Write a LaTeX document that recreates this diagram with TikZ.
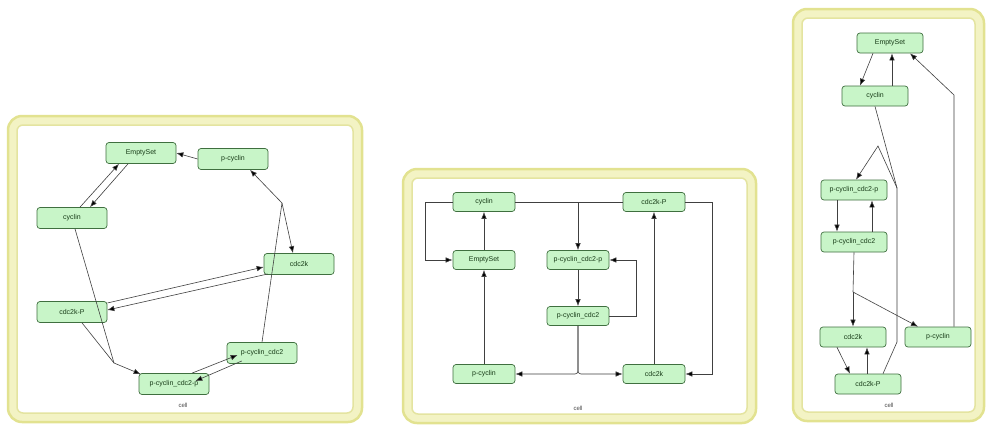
\documentclass[tikz,border=0pt]{standalone}
\usepackage{fontspec}
\setmainfont{Liberation Sans}
\usetikzlibrary{arrows.meta}
\definecolor{nodefill}{HTML}{C8F5C8}
\definecolor{nodeborder}{HTML}{3F6F3F}
\definecolor{nodetext}{HTML}{183C18}
\definecolor{bandout}{HTML}{E2E290}
\definecolor{bandfill}{HTML}{F3F3C4}
\definecolor{bandin}{HTML}{E4E4A0}
\definecolor{linecol}{HTML}{404040}
\tikzset{
  sp/.style={draw=nodeborder, fill=nodefill, rounded corners=3, minimum width=70, minimum height=21, inner sep=1, font=\fontsize{7}{8}\selectfont, text=nodetext, line width=0.7},
  spb/.style={sp, minimum width=62, minimum height=19},
  spc/.style={sp, minimum width=66, minimum height=20},
  arr/.style={draw=linecol, line width=0.6, -{Latex[length=7,width=5.5,fill=black]}},
  ln/.style={draw=linecol, line width=0.6},
  frameout/.style={draw=bandout, fill=bandfill, line width=2.5, rounded corners=14},
  framein/.style={draw=bandin, fill=white, line width=1.5, rounded corners=6},
  celllab/.style={font=\fontsize{6}{7}\selectfont, text=black!70}
}
\begin{document}
\begin{tikzpicture}[x=1pt,y=-1pt]
\useasboundingbox (0,0) rectangle (988,426);
% frames
\draw[frameout] (8,116) rectangle (362,422);
\draw[framein] (17,125) rectangle (353,413);
\draw[frameout] (403,169) rectangle (756,423);
\draw[framein] (412,178) rectangle (747,414);
\draw[frameout] (793,9) rectangle (984,421);
\draw[framein] (802,18) rectangle (975,412);

% ---------- panel 1 ----------
\node[sp] (a1) at (141,153) {EmptySet};
\node[sp] (pcyc1) at (233,159) {p-cyclin};
\node[sp] (cyc1) at (72,218) {cyclin};
\node[sp] (k1) at (299,264) {cdc2k};
\node[sp] (kp1) at (72,312) {cdc2k-P};
\node[sp] (pc1) at (262,353) {p-cyclin\_cdc2};
\node[sp] (pcp1) at (174,384) {p-cyclin\_cdc2-p};
\node[celllab] (cell1) at (183,405) {cell};
\coordinate (j1) at (282,203);
\coordinate (j1b) at (114,363);

\draw[arr] (pcyc1.west) -- (a1.east);
\draw[arr] ([xshift=8]cyc1.north) -- ([xshift=-22]a1.south);
\draw[arr] ([xshift=-13]a1.south) -- ([xshift=18]cyc1.north);
\draw[ln] (pc1.north) -- (j1);
\draw[arr] (j1) -- ([xshift=17]pcyc1.south);
\draw[arr] (j1) -- ([xshift=-6]k1.north);
\draw[arr] ([yshift=9]kp1.east) -- ([yshift=-3]k1.west);
\draw[arr] ([xshift=4,yshift=-10]k1.west) -- ([yshift=2]kp1.east);
\draw[ln] ([xshift=3]cyc1.south) -- (j1b);
\draw[ln] ([xshift=10]kp1.south) -- (j1b);
\draw[arr] (j1b) -- ([xshift=2,yshift=-1]pcp1.north west);
\draw[arr] ([xshift=18]pcp1.north) -- ([xshift=11,yshift=-2]pc1.west);
\draw[arr] ([xshift=15,yshift=-8]pc1.west) -- ([xshift=-14,yshift=3]pcp1.east);

% ---------- panel 2 ----------
\node[spb] (cyc2) at (484,202) {cyclin};
\node[spb] (kp2) at (654,202) {cdc2k-P};
\node[spb] (a2) at (484,260) {EmptySet};
\node[spb] (pcp2) at (578,260) {p-cyclin\_cdc2-p};
\node[spb] (pc2) at (578,316) {p-cyclin\_cdc2};
\node[spb] (pcyc2) at (484,374) {p-cyclin};
\node[spb] (k2) at (654,374) {cdc2k};
\node[celllab] (cell2) at (578,408) {cell};

\draw[arr] (cyc2.west) -- ++(-27,0) |- (a2.west);
\draw[arr] (a2.north) -- (cyc2.south);
\draw[arr] (pcyc2.north) -- (a2.south);
\draw[ln] (cyc2.east) -- (kp2.west);
\draw[arr] (cyc2.east -| pcp2.north) -- (pcp2.north);
\draw[arr] (pcp2.south) -- (pc2.north);
\draw[arr] (pc2.east) -- ++(27,0) |- (pcp2.east);
\draw[arr, rounded corners=3] (pc2.south) |- (pcyc2.east);
\draw[arr, rounded corners=3] (pc2.south) |- (k2.west);
\draw[arr] (k2.north) -- (kp2.south);
\draw[arr] (kp2.east) -- ++(27,0) |- (k2.east);

% ---------- panel 3 ----------
\node[spc] (a3) at (890,43) {EmptySet};
\node[spc] (cyc3) at (875,96) {cyclin};
\node[spc] (pcp3) at (854,190) {p-cyclin\_cdc2-p};
\node[spc] (pc3) at (854,242) {p-cyclin\_cdc2};
\node[spc] (k3) at (853,337) {cdc2k};
\node[spc] (pcyc3) at (938,337) {p-cyclin};
\node[spc] (kp3) at (868,384) {cdc2k-P};
\node[celllab] (cell3) at (889,405) {cell};
\coordinate (j3) at (897,188);
\coordinate (apex3) at (878,146);
\coordinate (k3j) at (897,342);
\coordinate (j3b) at (853,292);
\coordinate (bend3) at (954,95);

\draw[arr] ([xshift=-17]a3.south) -- ([xshift=-15]cyc3.north);
\draw[arr] ([xshift=17]cyc3.north) -- ([xshift=17]cyc3.north |- a3.south);
\draw[arr] ([xshift=16]pcyc3.north) -- (bend3) -- ([xshift=20]a3.south);
\draw[ln] (cyc3.south) -- (j3);
\draw[ln] ([xshift=15]kp3.north) -- (k3j) -- (j3);
\draw[arr] (j3) -- (apex3) -- ([xshift=2]pcp3.north);
\draw[arr] ([xshift=-17]pcp3.south) -- ([xshift=-17]pc3.north);
\draw[arr] ([xshift=18]pc3.north) -- ([xshift=18]pcp3.south);
\draw[ln] (pc3.south) -- (j3b);
\draw[arr] (j3b) -- (k3.north);
\draw[arr] (j3b) -- ([xshift=-20]pcyc3.north);
\draw[arr] ([xshift=-16]k3.south) -- ([xshift=-18]kp3.north);
\draw[arr] ([xshift=-1]kp3.north) -- ([xshift=-1]kp3.north |- k3.south);
\end{tikzpicture}
\end{document}
